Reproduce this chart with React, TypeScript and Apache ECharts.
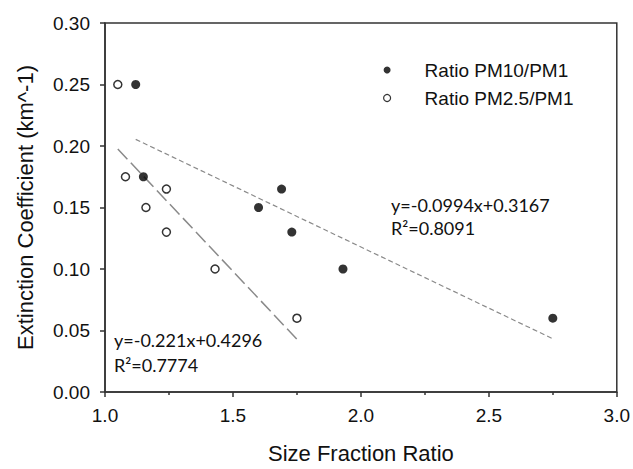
import React, { useEffect, useRef } from "react";
import * as echarts from "echarts";

const pm10Points: [number, number][] = [
  [1.12, 0.25],
  [1.15, 0.175],
  [1.6, 0.15],
  [1.69, 0.165],
  [1.73, 0.13],
  [1.93, 0.1],
  [2.75, 0.06],
];

const pm25Points: [number, number][] = [
  [1.05, 0.25],
  [1.08, 0.175],
  [1.16, 0.15],
  [1.24, 0.165],
  [1.24, 0.13],
  [1.43, 0.1],
  [1.75, 0.06],
];

const pm10Trend: [number, number][] = [
  [1.12, 0.2054],
  [2.75, 0.0433],
];

const pm25Trend: [number, number][] = [
  [1.05, 0.1976],
  [1.75, 0.0429],
];

const seriesNames = ["Ratio PM10/PM1", "Ratio PM2.5/PM1"];
const eqPm10 = ["y=-0.0994x+0.3167", "R²=0.8091"];
const eqPm25 = ["y=-0.221x+0.4296", "R²=0.7774"];

export default function App() {
  const ref = useRef<HTMLDivElement>(null);
  useEffect(() => {
    if (!ref.current) return;
    const chart = echarts.init(ref.current, null, { renderer: "svg" });
    const axisColor = "#333";
    const labelFont = "'Liberation Sans', Arial, sans-serif";
    const eqFont = "Lato, 'Open Sans', sans-serif";
    chart.setOption({
      animation: false,
      backgroundColor: "#fff",
      grid: {
        left: 105,
        top: 23,
        right: 16,
        bottom: 75,
        show: true,
        borderColor: axisColor,
        borderWidth: 1.5,
        backgroundColor: "transparent",
      },
      legend: {
        orient: "vertical",
        left: 378,
        top: 55,
        itemWidth: 7,
        itemHeight: 7,
        itemGap: 8,
        textStyle: {
          fontFamily: labelFont,
          fontSize: 19,
          lineHeight: 20,
          color: "#111",
          padding: [0, 0, 0, 29],
        },
        data: [
          { name: seriesNames[0], icon: "circle", itemStyle: { color: "#000", borderWidth: 0 } },
          {
            name: seriesNames[1],
            icon: "circle",
            itemStyle: { color: "#fff", borderColor: "#000", borderWidth: 1.2 },
          },
        ],
      },
      xAxis: {
        type: "value",
        min: 1,
        max: 3,
        interval: 0.5,
        name: "Size Fraction Ratio",
        nameLocation: "middle",
        nameGap: 50,
        nameTextStyle: { fontFamily: labelFont, fontSize: 22, color: "#111" },
        axisLine: { show: true, lineStyle: { color: axisColor, width: 1.5 } },
        axisTick: { show: true, length: 5, lineStyle: { color: axisColor, width: 1.5 } },
        minorTick: { show: true, splitNumber: 2, length: 3, lineStyle: { color: axisColor, width: 1.5 } },
        splitLine: { show: false },
        axisLabel: {
          fontFamily: labelFont,
          fontSize: 19,
          color: "#111",
          margin: 14,
          formatter: (v: number) => v.toFixed(1),
        },
      },
      yAxis: {
        type: "value",
        min: 0,
        max: 0.3,
        interval: 0.05,
        name: "Extinction Coefficient (km^-1)",
        nameLocation: "middle",
        nameGap: 69,
        nameTextStyle: { fontFamily: labelFont, fontSize: 22, color: "#111" },
        axisLine: { show: true, lineStyle: { color: axisColor, width: 1.5 } },
        axisTick: { show: true, length: 5, lineStyle: { color: axisColor, width: 1.5 } },
        splitLine: { show: false },
        axisLabel: {
          fontFamily: labelFont,
          fontSize: 19,
          color: "#111",
          margin: 15,
          formatter: (v: number) => v.toFixed(2),
        },
      },
      series: [
        {
          name: "trend10",
          type: "line",
          data: pm10Trend,
          symbol: "none",
          silent: true,
          lineStyle: { color: "#8a8a8a", width: 1.2, type: [5, 3] },
          z: 1,
        },
        {
          name: "trend25",
          type: "line",
          data: pm25Trend,
          symbol: "none",
          silent: true,
          lineStyle: { color: "#8a8a8a", width: 1.5, type: [14, 5] },
          z: 1,
        },
        {
          name: seriesNames[0],
          type: "scatter",
          data: pm10Points,
          symbol: "circle",
          symbolSize: 9,
          itemStyle: { color: "#000" },
          z: 3,
        },
        {
          name: seriesNames[1],
          type: "scatter",
          data: pm25Points,
          symbol: "circle",
          symbolSize: 8,
          itemStyle: { color: "#fff", borderColor: "#000", borderWidth: 1.5 },
          z: 3,
        },
      ],
      graphic: [
        {
          type: "text",
          left: 391,
          top: 193,
          style: {
            text: eqPm10.join("\n"),
            font: `18px ${eqFont}`,
            lineHeight: 23,
            fill: "#111",
          },
        },
        {
          type: "text",
          left: 114,
          top: 327,
          style: {
            text: eqPm25.join("\n"),
            font: `18px ${eqFont}`,
            lineHeight: 25,
            fill: "#111",
          },
        },
      ],
    });
    return () => chart.dispose();
  }, []);
  return (
    <div
      ref={ref}
      style={{ position: "fixed", left: 0, top: 0, width: 633, height: 469, background: "#fff" }}
    />
  );
}
